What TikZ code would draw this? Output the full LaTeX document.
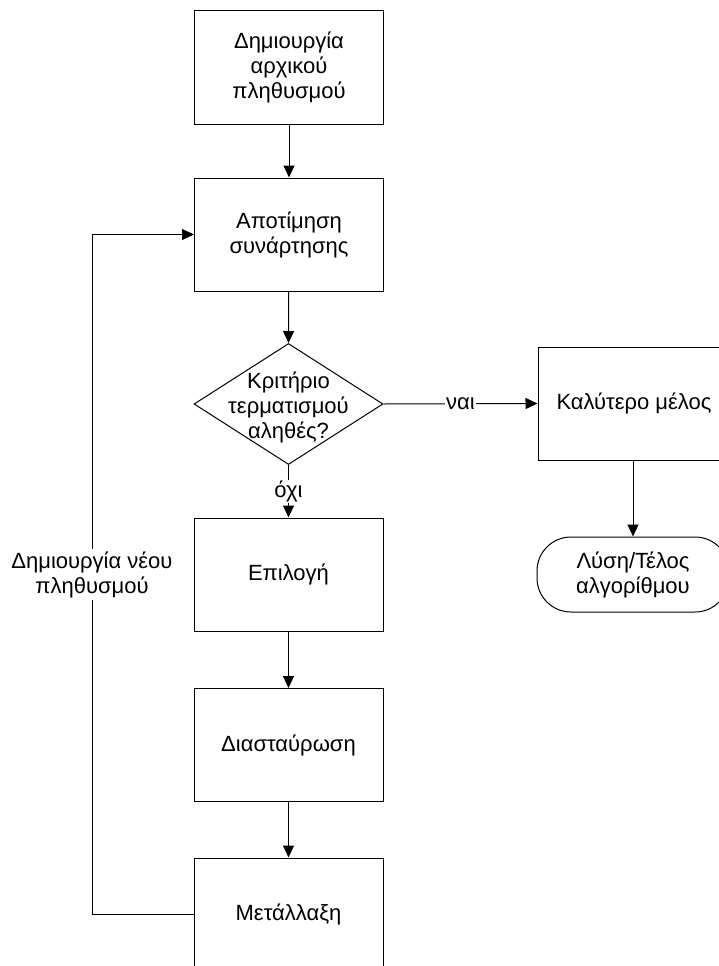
\documentclass[tikz,border=0pt]{standalone}
\usepackage{fontspec}
\setmainfont{Liberation Sans}
\usetikzlibrary{shapes.geometric,arrows.meta}

\begin{document}
\begin{tikzpicture}[x=1pt,y=-1pt,
  font=\fontsize{22}{25}\selectfont,
  stepbox/.style={draw, line width=1pt, minimum width=189pt, minimum height=113pt,
                  align=center, inner sep=0pt},
  decision/.style={draw, diamond, line width=1pt, aspect=1.56,
                   minimum width=189pt, minimum height=121pt, inner sep=0pt},
  terminal/.style={draw, rectangle, rounded corners=34pt, line width=1pt,
                   minimum width=192pt, minimum height=75pt,
                   align=center, inner sep=0pt},
  flow/.style={line width=1pt, -{Triangle[length=12pt,width=11pt]}},
  tag/.style={fill=white, inner sep=2pt, align=center}]

\useasboundingbox (0,0) rectangle (718,966);

% main column
\node[stepbox] (b1) at (289,67.5) {Δημιουργία\\αρχικού\\πληθυσμού};
\node[stepbox] (b2) at (289,234.5) {Αποτίμηση\\συνάρτησης};
\node[decision] (d) at (288.5,404) {};
\node[align=center, inner sep=0pt] (dt) at (288.5,407) {Κριτήριο\\τερματισμού\\αληθές?};
\node[stepbox] (e) at (288.5,574.5) {Επιλογή};
\node[stepbox] (c) at (288.5,745) {Διασταύρωση};
\node[stepbox] (m) at (288.5,914.5) {Μετάλλαξη};

% exit branch
\node[stepbox, minimum width=192pt] (r) at (634,403.5) {Καλύτερο μέλος};
\node[terminal] (t) at (633,574.5) {Λύση/Τέλος\\αλγορίθμου};

% connectors
\draw[flow] (b1) -- (b2);
\draw[flow] (b2) -- (d.north);
\draw[flow] (d.south) -- node[tag, inner sep=1pt] (no) {όχι} (e);
\draw[flow] (d.east) -- node[tag, inner sep=1pt] (yes) {ναι} (r.west);
\draw[flow] (e) -- (c);
\draw[flow] (c) -- (m);
\draw[flow] (r.south -| t.north) -- (t.north);

% feedback loop
\coordinate (lb) at (92,914.5);
\coordinate (lt) at (92,234.5);
\draw[flow] (m.west) -- (lb) -- node[tag] (loop) {Δημιουργία νέου\\πληθυσμού} (lt) -- (b2.west);
\end{tikzpicture}
\end{document}
